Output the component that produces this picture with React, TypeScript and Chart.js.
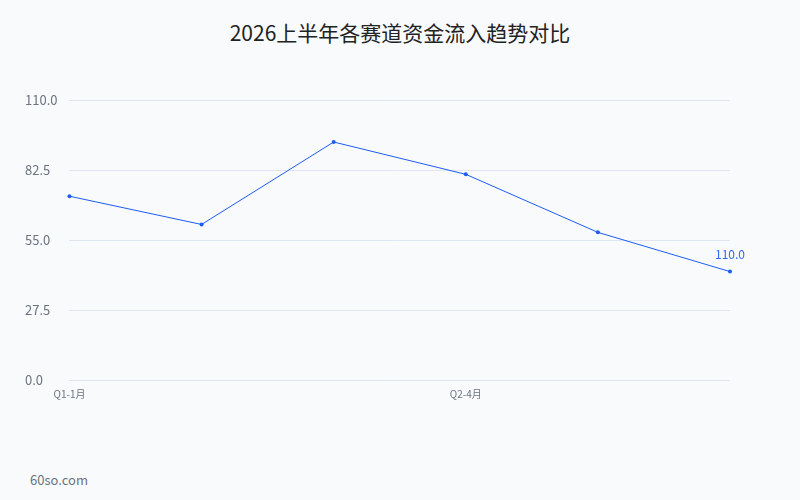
import { useEffect, useRef } from 'react';
import { Chart, registerables } from 'chart.js';
Chart.register(...registerables);

const categories = ['Q1-1月', 'Q1-2月', 'Q1-3月', 'Q2-4月', 'Q2-5月', 'Q2-6月'];
const values = [72.2, 61.1, 93.5, 80.8, 58.0, 42.6];
const yTicks = [0, 27.5, 55, 82.5, 110];
const pointLabels = ['', '', '', '', '', '110.0'];

const lineColor = '#1c5cf2';

const pointLabelPlugin = {
  id: 'pointLabel',
  afterDatasetsDraw(chart: any) {
    const meta = chart.getDatasetMeta(0);
    const ctx = chart.ctx;
    ctx.save();
    ctx.font = '12px "Noto Sans CJK SC", "Noto Sans", sans-serif';
    ctx.fillStyle = '#2f6bf0';
    ctx.textAlign = 'center';
    ctx.textBaseline = 'bottom';
    meta.data.forEach((pt: any, i: number) => {
      if (pointLabels[i]) ctx.fillText(pointLabels[i], pt.x, pt.y - 11);
    });
    ctx.restore();
  },
};

export default function App() {
  const canvasRef = useRef<HTMLCanvasElement>(null);

  useEffect(() => {
    const chart = new Chart(canvasRef.current!, {
      type: 'line',
      data: {
        labels: categories,
        datasets: [{
          label: '资金流入',
          data: values,
          borderColor: lineColor,
          backgroundColor: lineColor,
          borderWidth: 1,
          pointRadius: 2,
          pointBorderWidth: 0,
          tension: 0,
        }],
      },
      options: {
        animation: false,
        responsive: true,
        maintainAspectRatio: false,
        layout: { padding: { top: 100, right: 70, bottom: 100, left: 25 } },
        plugins: { legend: { display: false }, tooltip: { enabled: false } },
        scales: {
          x: {
            grid: { display: false },
            border: { display: false },
            ticks: {
              autoSkip: false,
              maxRotation: 0,
              padding: 0,
              color: '#6b7280',
              font: { size: 10, family: '"Noto Sans CJK SC", "Noto Sans", sans-serif' },
              callback: (_v: any, i: number) => (i % 3 === 0 ? categories[i] : ''),
            },
          },
          y: {
            min: 0,
            max: 110,
            afterBuildTicks: (axis: any) => { axis.ticks = yTicks.map(v => ({ value: v })); },
            grid: { color: '#dfe5f1', drawTicks: false },
            border: { display: false },
            ticks: {
              padding: 6,
              crossAlign: 'far',
              color: '#6b7280',
              font: { size: 13, family: '"Noto Sans CJK SC", "Noto Sans", sans-serif' },
              callback: (v: any) => Number(v).toFixed(1),
            },
          },
        },
      },
      plugins: [pointLabelPlugin],
    });
    return () => chart.destroy();
  }, []);

  return (
    <div style={{ position: 'fixed', inset: 0, background: '#f8fafc', fontFamily: '"Noto Sans CJK SC", "Noto Sans", sans-serif' }}>
      <div style={{ position: 'absolute', top: 17, left: 0, right: 0, textAlign: 'center', fontSize: 21, color: '#222' }}>
        2026上半年各赛道资金流入趋势对比
      </div>
      <div style={{ position: 'absolute', left: 30, top: 470, fontSize: 13, color: '#6b7280' }}>60so.com</div>
      <div style={{ position: 'absolute', inset: 0 }}>
        <canvas ref={canvasRef} />
      </div>
    </div>
  );
}
